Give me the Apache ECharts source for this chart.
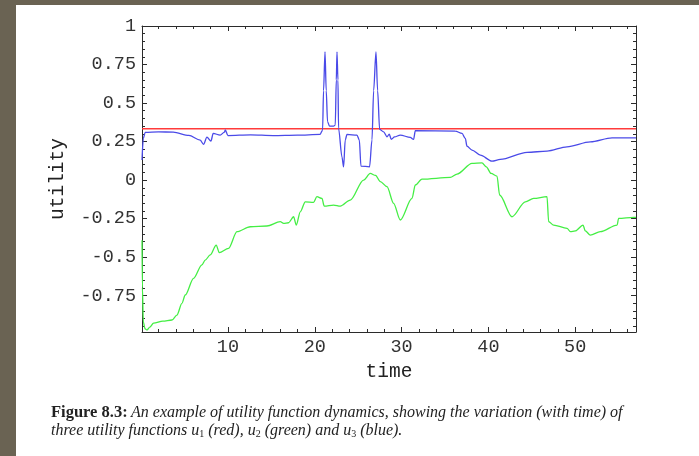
<!DOCTYPE html>
<html>
<head>
<meta charset="utf-8">
<script src="https://cdn.jsdelivr.net/npm/echarts@6/dist/echarts.min.js"></script>
<style>
  html, body { margin: 0; padding: 0; background: #fff; }
  #chart { width: 699px; height: 456px; }
</style>
</head>
<body>
<div id="chart"></div>
<script>
// u1 (red) stays flat, u2 (green) and u3 (blue)
const redU1 = [[0.1, 0.333], [57, 0.333]];

const greenU2 = [
    [0.1, -0.39], [0.15, -0.7], [0.25, -0.92], [0.45, -0.965], [0.67, -0.973], [1.0, -0.955],
    [1.43, -0.929], [2.5, -0.915], [3.55, -0.908], [4.12, -0.876], [4.7, -0.8], [5.08, -0.746],
    [6.04, -0.638], [7.0, -0.55], [7.38, -0.519], [7.96, -0.486], [8.65, -0.422], [9.0, -0.471],
    [10.07, -0.443], [11.04, -0.335], [12.57, -0.303], [14.49, -0.298], [16.03, -0.27], [16.41, -0.281],
    [16.98, -0.277], [17.56, -0.238], [17.87, -0.292], [18.33, -0.206], [18.91, -0.141], [19.86, -0.145],
    [20.25, -0.108], [20.83, -0.119], [21.09, -0.169], [22.17, -0.162], [22.94, -0.169], [24.09, -0.13],
    [25.62, 0.0], [26.39, 0.043], [27.0, 0.03], [27.55, -0.01], [28.32, -0.043], [29.08, -0.151],
    [29.85, -0.259], [31.2, -0.119], [31.58, -0.032], [32.35, 0.006], [35.61, 0.017], [36.38, 0.039],
    [38.11, 0.108], [39.26, 0.112], [39.76, 0.086], [40.3, 0.043], [40.99, 0.026], [41.29, -0.097],
    [42.72, -0.238], [44.25, -0.141], [45.21, -0.119], [46.75, -0.108], [46.94, -0.27], [47.51, -0.292],
    [49.06, -0.313], [49.44, -0.335], [50.01, -0.33], [50.9, -0.292], [51.16, -0.33], [51.74, -0.357],
    [52.89, -0.335], [54.82, -0.292], [55.0, -0.249], [56.73, -0.242], [57, -0.242]
];

const blueU3 = [
    [0.1, 0.13], [0.25, 0.27], [0.47, 0.31], [2.0, 0.313], [3.7, 0.311], [5.5, 0.29], [6.8, 0.259],
    [7.19, 0.232], [7.58, 0.279], [8.04, 0.253], [8.3, 0.303], [9.1, 0.292], [9.6, 0.311], [9.69, 0.326],
    [10.0, 0.289], [12.6, 0.294], [15.2, 0.289], [18.0, 0.292], [20.6, 0.296], [20.9, 0.324],
    [21.01, 0.58], [21.18, 0.832], [21.32, 0.58], [21.47, 0.38], [21.7, 0.35], [22.17, 0.35],
    [22.36, 0.357], [22.48, 0.65], [22.56, 0.832], [22.67, 0.65], [22.74, 0.335], [23.13, 0.151],
    [23.32, 0.086], [23.51, 0.26], [23.71, 0.296], [24.86, 0.292], [25.13, 0.26], [25.32, 0.091],
    [26.31, 0.086], [26.59, 0.26], [26.78, 0.58], [27.05, 0.832], [27.24, 0.58], [27.47, 0.329],
    [27.93, 0.313], [28.32, 0.281], [28.58, 0.298], [28.81, 0.264], [29.19, 0.28], [29.85, 0.292],
    [31.0, 0.277], [31.38, 0.264], [31.58, 0.32], [36.19, 0.318], [36.96, 0.303], [37.34, 0.27],
    [37.53, 0.22], [38.11, 0.195], [39.07, 0.162], [40.41, 0.123], [41.37, 0.134], [44.45, 0.18],
    [46.75, 0.188], [49.05, 0.216], [51.74, 0.248], [54.24, 0.274], [57, 0.274]
];

const xMajor = [10, 20, 30, 40, 50];
const yMajor = [-0.75, -0.5, -0.25, 0, 0.25, 0.5, 0.75, 1];
const yLabels = { '-0.75': '-0.75', '-0.5': '-0.5', '-0.25': '-0.25', '0': '0', '0.25': '0.25', '0.5': '0.5', '0.75': '0.75', '1': '1' };

const xRange = [0.1, 57];
const yRange = [-0.986, 1];

// minor ticks every 2 on x, every 0.05 on y
const xMinor = [];
for (let v = 2; v < xRange[1]; v += 2) if (v % 10 !== 0) xMinor.push(v);
const yMinor = [];
for (let k = -19; k <= 19; k++) if (k % 5 !== 0) yMinor.push(+(k * 0.05).toFixed(2));

const frame = '#2b2b2b';
const mono = '"Liberation Mono", "DejaVu Sans Mono", monospace';
const serif = '"Liberation Serif", "DejaVu Serif", serif';

function xAx(pos, ticks, len, withLabels, withLine) {
    return {
        type: 'value', position: pos, min: xRange[0], max: xRange[1],
        axisLine: { show: withLine, onZero: false, lineStyle: { color: frame, width: 1 } },
        axisTick: { show: true, inside: true, length: len, customValues: ticks, lineStyle: { color: frame } },
        axisLabel: withLabels
            ? { show: true, customValues: xMajor, margin: 6, fontFamily: mono, fontSize: 18.5, color: '#333' }
            : { show: false },
        splitLine: { show: false },
        name: withLabels ? 'time' : '',
        nameLocation: 'middle', nameGap: 29,
        nameTextStyle: { fontFamily: mono, fontSize: 19.5, color: '#222' }
    };
}

function yAx(pos, ticks, len, withLabels, withLine) {
    return {
        type: 'value', position: pos, min: yRange[0], max: yRange[1],
        axisLine: { show: withLine, onZero: false, lineStyle: { color: frame, width: 1 } },
        axisTick: { show: true, inside: true, length: len, customValues: ticks, lineStyle: { color: frame } },
        axisLabel: withLabels
            ? { show: true, customValues: yMajor, margin: 6, fontFamily: mono, fontSize: 18.5, color: '#333',
                formatter: v => yLabels[String(+v.toFixed(2))] ?? '' }
            : { show: false },
        splitLine: { show: false },
        name: withLabels ? 'utility' : '',
        nameLocation: 'middle', nameGap: 74, nameRotate: 90,
        nameTextStyle: { fontFamily: mono, fontSize: 19.5, color: '#222' }
    };
}

const chart = echarts.init(document.getElementById('chart'), null, { renderer: 'canvas' });

const line = (data, color) => ({
    type: 'line', data, showSymbol: false, smooth: 0.3, smoothMonotone: 'x',
    xAxisIndex: 0, yAxisIndex: 0, animation: false, silent: true,
    lineStyle: { color, width: 1.3 }
});

chart.setOption({
    backgroundColor: '#fff',
    animation: false,
    grid: { left: 142, top: 26, right: 63, bottom: 124, containLabel: false },
    xAxis: [
        xAx('bottom', xMajor, 5, true, true),
        xAx('bottom', xMinor, 3, false, false),
        xAx('top', xMajor, 5, false, true),
        xAx('top', xMinor, 3, false, false)
    ],
    yAxis: [
        yAx('left', yMajor, 5, true, true),
        yAx('left', yMinor, 3, false, false),
        yAx('right', yMajor, 5, false, true),
        yAx('right', yMinor, 3, false, false)
    ],
    series: [
        line(redU1, '#ff3b3b'),
        line(blueU3, '#4a4ae8'),
        line(greenU2, '#44ee44')
    ],
    graphic: [
        { type: 'rect', left: 0, top: 0, shape: { width: 699, height: 5 }, style: { fill: '#6a6353' }, silent: true },
        { type: 'rect', left: 0, top: 0, shape: { width: 16, height: 456 }, style: { fill: '#6a6353' }, silent: true },
        {
            type: 'text', left: 51, top: 404, silent: true,
            style: {
                text: '{b|Figure 8.3:} {i|An example of utility function dynamics, showing the variation (with time) of}\n' +
                      '{i|three utility functions }{u|u}{s|1}{i| (red), }{u|u}{s|2}{i| (green) and }{u|u}{s|3}{i| (blue).}',
                fill: '#222',
                rich: {
                    b: { fontFamily: serif, fontWeight: 'bold', fontSize: 16.5, lineHeight: 18, fill: '#222' },
                    i: { fontFamily: serif, fontStyle: 'italic', fontSize: 16, lineHeight: 18, fill: '#222' },
                    u: { fontFamily: serif, fontStyle: 'italic', fontSize: 16, lineHeight: 18, fill: '#222' },
                    s: { fontFamily: serif, fontSize: 10, lineHeight: 13, verticalAlign: 'bottom', fill: '#222' }
                }
            }
        }
    ]
});
</script>
</body>
</html>
